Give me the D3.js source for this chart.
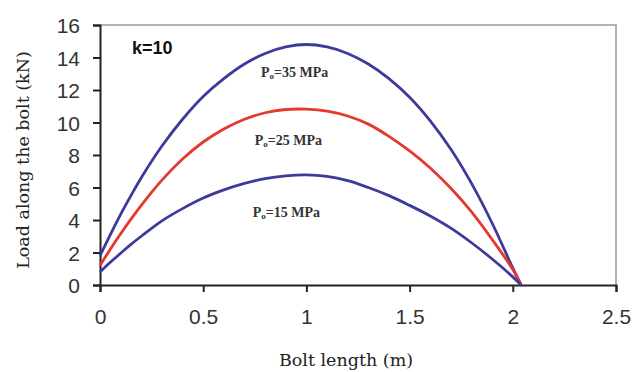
<!DOCTYPE html>
<html>
<head>
<meta charset="utf-8">
<script src="https://cdn.jsdelivr.net/npm/d3@7"></script>
<style>
  body { margin: 0; background: #fff; }
  svg { display: block; }
</style>
</head>
<body>
<div id="chart"></div>
<script>
/**
 * DATA
 * */
const boltLength = [0, 0.05, 0.1, 0.15, 0.2, 0.3, 0.4, 0.5, 0.6, 0.7, 0.8, 0.9, 1.0,
  1.1, 1.2, 1.3, 1.4, 1.5, 1.6, 1.7, 1.8, 1.9, 2.0, 2.04];

const load35 = [1.8, 3.1, 4.35, 5.5, 6.6, 8.55, 10.2, 11.6, 12.7, 13.6, 14.25, 14.65, 14.8,
  14.65, 14.25, 13.6, 12.7, 11.55, 10.1, 8.35, 6.25, 3.8, 1.05, 0];
const load25 = [1.2, 2.2, 3.15, 4.05, 4.9, 6.45, 7.75, 8.8, 9.6, 10.2, 10.6, 10.8, 10.82,
  10.7, 10.4, 9.9, 9.15, 8.25, 7.2, 5.95, 4.5, 2.8, 0.95, 0];
const load15 = [0.8, 1.4, 1.95, 2.5, 3.0, 3.95, 4.7, 5.35, 5.85, 6.25, 6.55, 6.72, 6.78,
  6.68, 6.42, 6.0, 5.5, 4.9, 4.25, 3.5, 2.6, 1.6, 0.5, 0];

const seriesNames = ["35", "25", "15"];
const xTicks = [0, 0.5, 1, 1.5, 2, 2.5];
const yTicks = [0, 2, 4, 6, 8, 10, 12, 14, 16];

/**
 * CONSTANTS
 * */
const width = 633,
  height = 372,
  margin = { top: 25, right: 17, bottom: 87, left: 100 };

const blue = "#3c3b9c",
  red = "#e4392c";

const series = [
  { name: seriesNames[0], values: load35, color: blue, labelX: 0.78, labelY: 12.8 },
  { name: seriesNames[1], values: load25, color: red, labelX: 0.75, labelY: 8.6 },
  { name: seriesNames[2], values: load15, color: blue, labelX: 0.74, labelY: 4.2 }
];

const svg = d3.select("#chart")
  .append("svg")
  .attr("width", width)
  .attr("height", height);

const xScale = d3.scaleLinear()
  .domain([0, 2.5])
  .range([margin.left, width - margin.right]);

const yScale = d3.scaleLinear()
  .domain([0, 16])
  .range([height - margin.bottom, margin.top]);

// frame: top and right in grey
svg.append("path")
  .attr("d", `M${xScale(0)},${yScale(16)}H${xScale(2.5)}V${yScale(0)}`)
  .attr("fill", "none")
  .attr("stroke", "#9a9a9a")
  .attr("stroke-width", 1.5);

// AXES
const xAxis = svg.append("g")
  .attr("transform", `translate(0,${yScale(0)})`)
  .call(d3.axisBottom(xScale).tickValues(xTicks).tickSize(7).tickPadding(17)
    .tickFormat(d3.format("")));

const yAxis = svg.append("g")
  .attr("transform", `translate(${xScale(0)},0)`)
  .call(d3.axisLeft(yScale).tickValues(yTicks).tickSize(7).tickPadding(13));

[xAxis, yAxis].forEach(ax => {
  ax.select(".domain").attr("stroke", "#222").attr("stroke-width", 2);
  ax.selectAll(".tick line").attr("stroke", "#222").attr("stroke-width", 2);
  ax.selectAll(".tick text")
    .attr("fill", "#333")
    .attr("font-family", "Liberation Sans, Arial, sans-serif");
});
xAxis.selectAll(".tick text").attr("font-size", 21);
yAxis.selectAll(".tick text").attr("font-size", 21).attr("dy", "0.36em");

// LINES
const line = d3.line()
  .x((d, i) => xScale(boltLength[i]))
  .y(d => yScale(d))
  .curve(d3.curveCatmullRom);

svg.selectAll(".series")
  .data(series)
  .join("path")
  .attr("class", "series")
  .attr("d", d => line(d.values))
  .attr("fill", "none")
  .attr("stroke", d => d.color)
  .attr("stroke-width", 2.8);

// curve labels
const labels = svg.selectAll(".label")
  .data(series)
  .join("text")
  .attr("class", "label")
  .attr("x", d => xScale(d.labelX))
  .attr("y", d => yScale(d.labelY))
  .attr("font-family", "Liberation Serif, serif")
  .attr("font-size", 14)
  .attr("font-weight", "bold")
  .attr("fill", "#333");
labels.append("tspan").text("P");
labels.append("tspan").attr("font-size", 9).attr("dy", 2).text("o");
labels.append("tspan").attr("dy", -2).text(d => `=${d.name} MPa`);

svg.append("text")
  .attr("x", 132)
  .attr("y", 54)
  .attr("font-family", "Liberation Sans, Arial, sans-serif")
  .attr("font-weight", "bold")
  .attr("font-size", 18)
  .attr("fill", "#111")
  .text("k=10");

// AXIS TITLES
svg.append("text")
  .attr("x", 346)
  .attr("y", 366)
  .attr("text-anchor", "middle")
  .attr("font-family", "DejaVu Serif, serif")
  .attr("font-size", 17.5)
  .attr("fill", "#222")
  .text("Bolt length (m)");

svg.append("text")
  .attr("transform", `translate(29,160) rotate(-90)`)
  .attr("text-anchor", "middle")
  .attr("font-family", "DejaVu Serif, serif")
  .attr("font-size", 17.5)
  .attr("fill", "#222")
  .text("Load along the bolt (kN)");
</script>
</body>
</html>
